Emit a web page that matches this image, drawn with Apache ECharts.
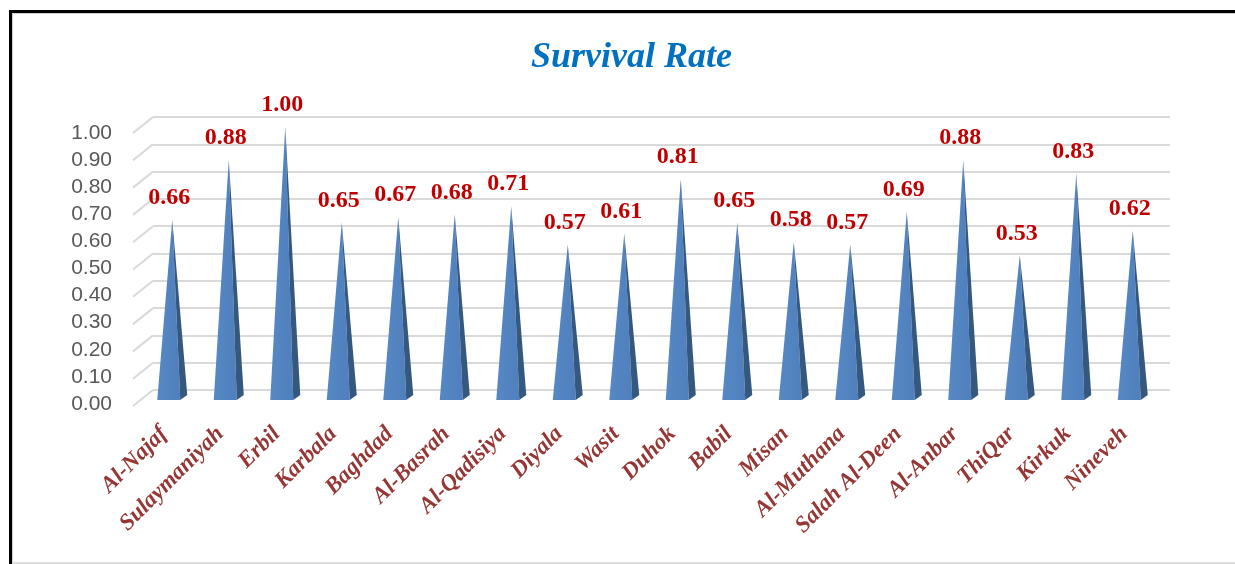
<!DOCTYPE html>
<html>
<head>
<meta charset="utf-8">
<script src="https://cdn.jsdelivr.net/npm/echarts@6/dist/echarts.min.js"></script>
<style>
  html, body { margin: 0; padding: 0; background: #fff; }
  #main { width: 1235px; height: 564px; }
</style>
</head>
<body>
<div id="main"></div>
<script>
var chart = echarts.init(document.getElementById('main'));

var regions = ['Al-Najaf', 'Sulaymaniyah', 'Erbil', 'Karbala', 'Baghdad', 'Al-Basrah', 'Al-Qadisiya',
  'Diyala', 'Wasit', 'Duhok', 'Babil', 'Misan', 'Al-Muthana', 'Salah Al-Deen', 'Al-Anbar',
  'ThiQar', 'Kirkuk', 'Nineveh'];
var survivalRate = [0.66, 0.88, 1.00, 0.65, 0.67, 0.68, 0.71, 0.57, 0.61, 0.81, 0.65, 0.58, 0.57,
  0.69, 0.88, 0.53, 0.83, 0.62];
var yTicks = [0, 0.1, 0.2, 0.3, 0.4, 0.5, 0.6, 0.7, 0.8, 0.9, 1.0];

var serif = '"Liberation Serif", "Times New Roman", serif';

// pyramid: front face + darker right side face, with value on top
function renderPyramid(params, api) {
  var idx = api.value(0);
  var top = api.coord([idx, api.value(1)]);
  var base = api.coord([idx, 0]);
  var x = top[0];
  return {
    type: 'group',
    children: [{
      type: 'polygon',
      shape: { points: [[x - 15, base[1]], [x + 8, base[1]], [x, top[1]]] },
      style: {
        fill: new echarts.graphic.LinearGradient(0, 0, 1, 0, [
          { offset: 0, color: '#5688c4' },
          { offset: 1, color: '#4f80bd' }
        ])
      }
    }, {
      type: 'polygon',
      shape: { points: [[x + 8, base[1]], [x + 15, base[1] - 5], [x, top[1]]] },
      style: { fill: '#35587f' }
    }, {
      type: 'text',
      style: {
        x: x - 3,
        y: top[1] - 22,
        text: api.value(1).toFixed(2),
        fill: '#c00000',
        font: 'bold 24px ' + serif,
        align: 'center',
        verticalAlign: 'middle'
      }
    }]
  };
}

// slanted side lines from the back wall to the front
function renderSlant(params, api) {
  var p = api.coord([0, api.value(0)]);
  var left = params.coordSys.x;
  return {
    type: 'line',
    shape: { x1: left, y1: p[1], x2: left - 20, y2: p[1] + 16 },
    style: { stroke: '#d9d9d9', lineWidth: 2 }
  };
}

var option = {
  backgroundColor: '#fff',
  animation: false,
  title: {
    text: 'Survival Rate',
    left: 526,
    top: 35,
    textStyle: {
      fontFamily: serif,
      fontStyle: 'italic',
      fontWeight: 'bold',
      fontSize: 36,
      color: '#0070c0'
    }
  },
  graphic: [
    { type: 'rect', shape: { x: 9, y: 10, width: 1226, height: 3 }, style: { fill: '#000' } },
    { type: 'rect', shape: { x: 12, y: 13, width: 1223, height: 1 }, style: { fill: '#d0d0d0' } },
    { type: 'rect', shape: { x: 9, y: 10, width: 3, height: 554 }, style: { fill: '#000' } },
    { type: 'rect', shape: { x: 12, y: 13, width: 1, height: 551 }, style: { fill: '#d0d0d0' } },
    { type: 'rect', shape: { x: 12, y: 562, width: 1223, height: 2 }, style: { fill: '#dcdcdc' } }
  ],
  grid: [
    { left: 153, right: 65, top: 117, bottom: 174 },
    { left: 144, right: 74, top: 127, bottom: 164 },
    { left: 144, right: 74, top: 133, bottom: 160 }
  ],
  xAxis: [{
    gridIndex: 0,
    type: 'category',
    data: regions,
    show: false
  }, {
    gridIndex: 1,
    type: 'category',
    data: regions,
    axisLine: { show: false },
    axisTick: { show: false },
    axisLabel: {
      rotate: 45,
      margin: 22,
      interval: 0,
      padding: [0, 12, 0, 0],
      fontFamily: serif,
      fontStyle: 'italic',
      fontWeight: 'bold',
      fontSize: 23,
      color: '#953735'
    }
  }, {
    gridIndex: 2,
    type: 'category',
    data: regions,
    show: false
  }],
  yAxis: [{
    gridIndex: 0,
    type: 'value',
    min: 0,
    max: 1,
    interval: 0.1,
    axisLabel: { show: false },
    axisLine: { show: false },
    axisTick: { show: false },
    splitLine: { lineStyle: { color: '#d9d9d9', width: 2 } }
  }, {
    gridIndex: 1,
    type: 'value',
    min: 0,
    max: 1,
    interval: 0.1,
    axisLabel: { show: false },
    axisLine: { show: false },
    axisTick: { show: false },
    splitLine: { show: false }
  }, {
    gridIndex: 2,
    type: 'value',
    min: 0,
    max: 1,
    interval: 0.1,
    axisLine: { show: false },
    axisTick: { show: false },
    splitLine: { show: false },
    axisLabel: {
      margin: 32,
      fontFamily: '"Liberation Sans", Arial, sans-serif',
      fontSize: 21,
      color: '#595959',
      formatter: function (v) { return v.toFixed(2); }
    }
  }],
  series: [{
    type: 'custom',
    xAxisIndex: 0,
    yAxisIndex: 0,
    renderItem: renderSlant,
    data: yTicks.map(function (v) { return [v]; }),
    encode: { y: 0 },
    clip: false,
    silent: true
  }, {
    type: 'custom',
    xAxisIndex: 1,
    yAxisIndex: 1,
    renderItem: renderPyramid,
    data: survivalRate.map(function (v, i) { return [i, v]; }),
    encode: { x: 0, y: 1 },
    clip: false
  }]
};

chart.setOption(option);
</script>
</body>
</html>
